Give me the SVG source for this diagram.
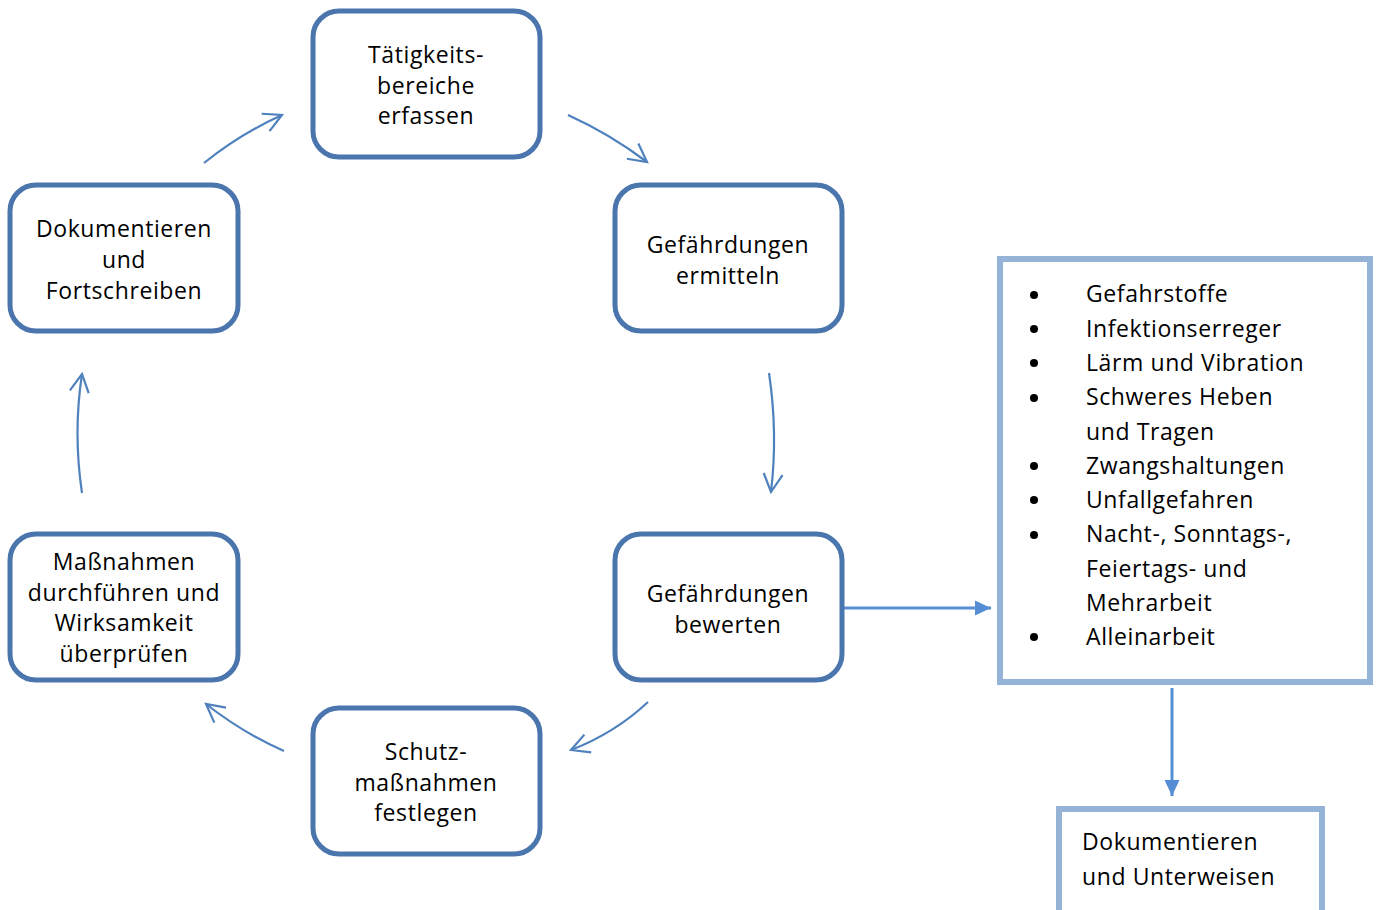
<svg xmlns="http://www.w3.org/2000/svg" width="1377" height="910" viewBox="0 0 1377 910">
<style>
.node{fill:#fff;stroke:#4a75ad;stroke-width:5}
.box{fill:#fff;stroke:#95b3d7;stroke-width:6}
text{font-family:"Open Sans","Noto Sans","Liberation Sans",sans-serif;font-size:23px;fill:#000;letter-spacing:0.6px}
.c{text-anchor:middle}
.cur{fill:none;stroke:#4f81bd;stroke-width:2.2;marker-end:url(#vh)}
.str{fill:none;stroke:#558ed5;stroke-width:3;marker-end:url(#fh)}
</style>
<defs>
<marker id="vh" markerUnits="userSpaceOnUse" viewBox="-22 -12 25 24" refX="0" refY="0" markerWidth="25" markerHeight="24" orient="auto" overflow="visible">
<path d="M-18,-9.5 L0,0 L-18,9.5" fill="none" stroke="#4f81bd" stroke-width="2.2"/>
</marker>
<marker id="fh" markerUnits="userSpaceOnUse" viewBox="-17 -8 17 16" refX="0" refY="0" markerWidth="17" markerHeight="16" orient="auto" overflow="visible">
<path d="M-16,-7.5 L0,0 L-16,7.5 Z" fill="#558ed5"/>
</marker>
</defs>
<g id="connectors">
<path class="cur" d="M568,115 Q610,134 647,162"/>
<path class="cur" d="M769,373 Q778,433 771,492"/>
<path class="cur" d="M648,702 Q615,733 571,750"/>
<path class="cur" d="M284,751 Q243,733 206,704"/>
<path class="cur" d="M82,493 Q73,433 82,374"/>
<path class="cur" d="M204,163 Q240,134 282,115"/>
<path class="str" d="M841,608 L991,608"/>
<path class="str" d="M1172,688 L1172,796"/>
</g>
<g id="n1">
<rect class="node" x="313" y="11" width="227" height="146" rx="26"/>
<text class="c" x="426" y="63">Tätigkeits-</text>
<text class="c" x="426" y="94">bereiche</text>
<text class="c" x="426" y="124">erfassen</text>
</g>
<g id="n2">
<rect class="node" x="615" y="185" width="227" height="146" rx="26"/>
<text class="c" x="728" y="253">Gefährdungen</text>
<text class="c" x="728" y="284">ermitteln</text>
</g>
<g id="n3">
<rect class="node" x="615" y="534" width="227" height="146" rx="26"/>
<text class="c" x="728" y="602">Gefährdungen</text>
<text class="c" x="728" y="633">bewerten</text>
</g>
<g id="n4">
<rect class="node" x="313" y="708" width="227" height="146" rx="26"/>
<text class="c" x="426" y="760">Schutz-</text>
<text class="c" x="426" y="791">maßnahmen</text>
<text class="c" x="426" y="821">festlegen</text>
</g>
<g id="n5">
<rect class="node" x="10" y="534" width="228" height="146" rx="26"/>
<text class="c" x="124" y="570">Maßnahmen</text>
<text class="c" x="124" y="601">durchführen und</text>
<text class="c" x="124" y="631">Wirksamkeit</text>
<text class="c" x="124" y="662">überprüfen</text>
</g>
<g id="n6">
<rect class="node" x="10" y="185" width="228" height="146" rx="26"/>
<text class="c" x="124" y="237">Dokumentieren</text>
<text class="c" x="124" y="268">und</text>
<text class="c" x="124" y="299">Fortschreiben</text>
</g>
<g id="list">
<rect class="box" x="1000" y="259" width="370" height="423"/>
<g fill="#000">
<circle cx="1034" cy="295" r="4"/>
<circle cx="1034" cy="329" r="4"/>
<circle cx="1034" cy="363" r="4"/>
<circle cx="1034" cy="398" r="4"/>
<circle cx="1034" cy="466" r="4"/>
<circle cx="1034" cy="500" r="4"/>
<circle cx="1034" cy="535" r="4"/>
<circle cx="1034" cy="637" r="4"/>
</g>
<text x="1086" y="302">Gefahrstoffe</text>
<text x="1086" y="337">Infektionserreger</text>
<text x="1086" y="371">Lärm und Vibration</text>
<text x="1086" y="405">Schweres Heben</text>
<text x="1086" y="440">und Tragen</text>
<text x="1086" y="474">Zwangshaltungen</text>
<text x="1086" y="508">Unfallgefahren</text>
<text x="1086" y="542">Nacht-, Sonntags-,</text>
<text x="1086" y="577">Feiertags- und</text>
<text x="1086" y="611">Mehrarbeit</text>
<text x="1086" y="645">Alleinarbeit</text>
</g>
<g id="doc">
<rect class="box" x="1059" y="809" width="263" height="120"/>
<text x="1082" y="850">Dokumentieren</text>
<text x="1082" y="885">und Unterweisen</text>
</g>
</svg>
